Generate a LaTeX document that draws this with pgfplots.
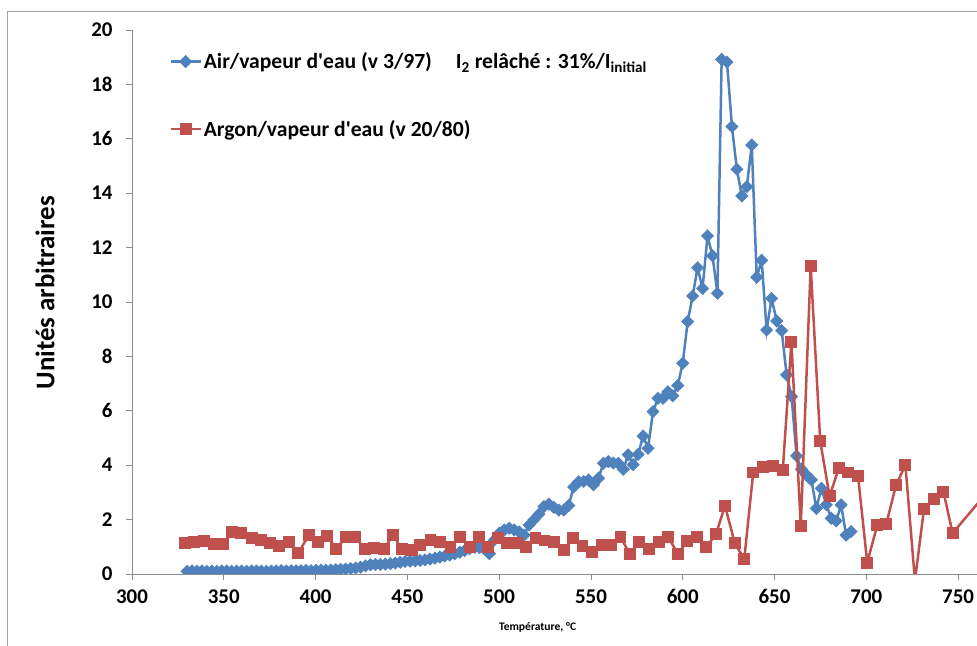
\documentclass[border=0pt]{standalone}
\usepackage{fontspec}
\setmainfont{Carlito}
\usepackage{pgfplots}
\usepackage{pgfplotstable}
\pgfplotsset{compat=1.18}
\definecolor{xlblue}{HTML}{4F81BD}
\definecolor{xlred}{HTML}{C0504D}
\definecolor{axgray}{HTML}{8C8C8C}

\pgfplotstableread{
x y
330.0 0.10
332.7 0.11
335.4 0.10
338.1 0.11
340.8 0.10
343.5 0.11
346.2 0.10
348.9 0.11
351.6 0.11
354.3 0.10
357.0 0.11
359.7 0.11
362.4 0.10
365.1 0.11
367.8 0.11
370.5 0.11
373.2 0.10
375.9 0.11
378.6 0.11
381.3 0.12
384.0 0.11
386.7 0.12
389.4 0.12
392.1 0.12
394.8 0.13
397.5 0.12
400.2 0.13
402.9 0.14
405.6 0.14
408.3 0.15
411.0 0.16
413.7 0.17
416.4 0.18
419.1 0.20
421.8 0.22
424.5 0.25
427.2 0.30
429.9 0.34
432.6 0.35
435.3 0.35
438.0 0.36
440.7 0.38
443.4 0.40
446.1 0.43
448.8 0.46
451.5 0.47
454.2 0.48
456.9 0.50
459.6 0.52
462.3 0.55
465.0 0.58
467.7 0.62
470.4 0.66
473.1 0.70
475.8 0.74
478.5 0.80
481.2 0.86
483.9 0.93
486.6 0.98
489.3 0.97
492.0 0.92
494.7 0.75
497.4 1.25
500.1 1.50
502.8 1.62
505.5 1.68
508.2 1.62
510.9 1.55
513.6 1.43
516.3 1.80
519.0 2.00
521.7 2.20
524.4 2.48
527.1 2.57
529.8 2.45
532.5 2.35
535.2 2.35
537.9 2.52
540.6 3.20
543.3 3.39
546.0 3.40
548.7 3.46
551.4 3.28
554.1 3.52
556.8 4.07
559.5 4.13
562.2 4.08
564.9 4.07
567.6 3.85
570.3 4.38
573.0 4.02
575.7 4.40
578.4 5.07
581.1 4.62
583.8 5.97
586.5 6.46
589.2 6.46
591.9 6.70
594.6 6.55
597.3 6.93
600.0 7.75
602.7 9.28
605.4 10.22
608.1 11.26
610.8 10.50
613.5 12.43
616.2 11.70
618.9 10.32
621.2 18.92
624.1 18.82
626.8 16.45
629.5 14.88
632.2 13.90
634.9 14.24
637.6 15.77
640.3 10.91
643.0 11.53
645.7 8.97
648.4 10.13
651.2 9.30
653.9 8.95
656.6 7.32
659.3 6.52
662.0 4.34
664.7 3.85
667.4 3.64
670.1 3.46
672.8 2.41
675.5 3.15
678.2 2.55
680.9 2.05
683.6 1.95
686.3 2.54
689.0 1.43
691.7 1.56
}\airdata

\pgfplotstableread{
x y
329.0 1.13
334.0 1.16
339.0 1.21
344.5 1.10
349.4 1.09
354.5 1.53
359.6 1.52
365.4 1.31
370.5 1.25
375.4 1.13
380.3 1.03
385.4 1.19
390.5 0.76
396.3 1.43
401.2 1.16
406.3 1.40
411.2 0.92
416.6 1.35
421.7 1.35
427.0 0.91
432.0 0.94
437.1 0.91
442.2 1.43
447.1 0.91
452.6 0.88
457.1 1.07
462.6 1.25
468.0 1.19
473.5 0.98
478.9 1.37
484.0 1.00
488.9 1.35
494.0 0.98
499.3 1.31
504.4 1.13
509.5 1.13
514.5 1.00
519.8 1.31
524.7 1.23
529.8 1.19
535.3 0.88
540.3 1.31
545.4 1.03
550.7 0.82
555.8 1.07
561.0 1.07
566.1 1.35
571.2 0.74
576.3 1.17
581.7 0.91
587.0 1.19
592.1 1.35
597.4 0.74
602.5 1.21
607.6 1.37
612.9 1.00
618.1 1.46
623.0 2.51
628.3 1.15
633.5 0.54
638.4 3.73
643.9 3.95
649.0 3.98
654.5 3.82
659.2 8.52
664.3 1.76
669.7 11.32
674.9 4.88
680.0 2.86
685.1 3.91
690.2 3.73
695.5 3.60
700.5 0.42
706.0 1.80
710.9 1.84
716.2 3.27
721.3 4.01
726.5 -0.25
731.4 2.38
736.9 2.75
742.0 3.03
747.0 1.50
762.0 2.70
}\argondata

\begin{document}
\begin{tikzpicture}
\begin{axis}[
  at={(132bp,72bp)}, anchor=south west,
  scale only axis, width=845bp, height=544bp,
  xmin=300, xmax=760.3, ymin=0, ymax=20,
  xtick={300,350,...,750}, ytick={0,2,...,20},
  axis lines*=left,
  axis line style={axgray, line width=0.8bp},
  tick style={axgray, line width=0.8bp},
  tick align=outside, major tick length=6bp,
  tick label style={font=\bfseries\fontsize{21}{24}\selectfont},
  yticklabel style={xshift=-10bp},
  xticklabel style={yshift=-6bp},
  /pgf/number format/assume math mode=true,
  clip marker paths=true,
  ylabel={Unités arbitraires},
  ylabel style={font=\bfseries\fontsize{27}{32}\selectfont, at={(axis description cs:-0.103,0.517)}, anchor=center},
  xlabel={Température, °C},
  xlabel style={font=\bfseries\fontsize{11.6}{14}\selectfont, at={(axis description cs:0.48,-0.099)}, anchor=center},
  legend style={draw=none, fill=none, at={(axis description cs:0.044,0.962)}, anchor=north west,
    row sep=46bp, font=\bfseries\fontsize{21.7}{26}\selectfont, inner sep=0pt},
  legend cell align=left,
  legend image code/.code={\draw[mark repeat=2,mark phase=2] plot coordinates {(0bp,0bp)(15bp,0bp)(30bp,0bp)};},
]
\addplot[color=xlblue, line width=2.5bp, mark=square*, mark size=3.4bp,
  mark options={rotate=45, solid, fill=xlblue, draw=xlblue}] table[x=x,y=y] {\airdata};
\addlegendentry{Air/vapeur d\textquotesingle eau (v 3/97)\hspace{24bp}I\textsubscript{2} relâché : 31\%/I\textsubscript{initial}}
\addplot[color=xlred, line width=2.5bp, mark=square*, mark size=4.7bp,
  mark options={solid, fill=xlred, draw=xlred}] table[x=x,y=y] {\argondata};
\addlegendentry{Argon/vapeur d\textquotesingle eau (v 20/80)}
\node[rotate=90, font=\bfseries\fontsize{10}{12}\selectfont] at (axis description cs:-0.063,0.958) {x 10\textsuperscript{-9}};
\end{axis}
\draw[axgray!80, line width=1bp] (7bp,-5bp) -- (7bp,634bp) -- (990bp,634bp);
\pgfresetboundingbox
\useasboundingbox (0,0) rectangle (977bp,646bp);
\end{tikzpicture}
\end{document}
